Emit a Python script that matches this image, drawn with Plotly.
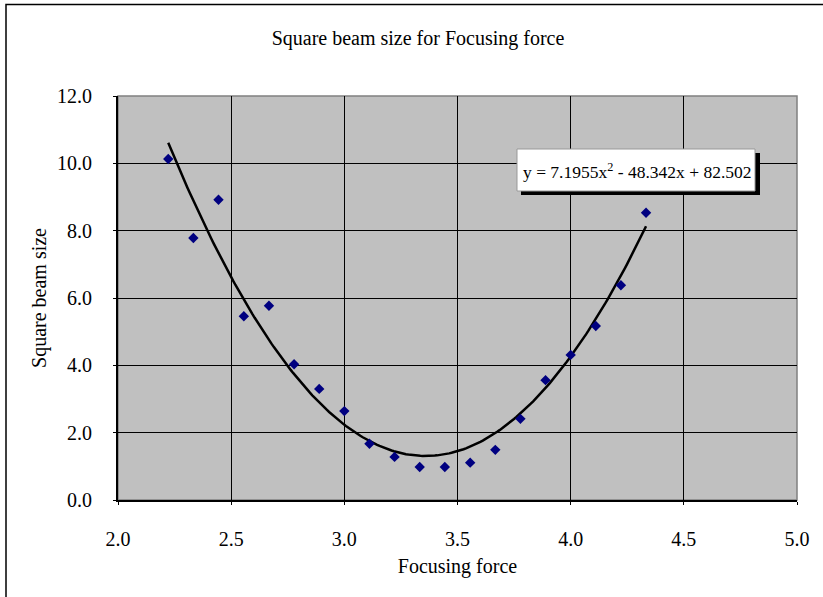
import numpy as np
import plotly.graph_objects as go

# Data
focusing_force = [2.222, 2.333, 2.444, 2.556, 2.667, 2.778, 2.889, 3.000, 3.111, 3.222,
                  3.333, 3.444, 3.556, 3.667, 3.778, 3.889, 4.000, 4.111, 4.222, 4.333]
square_beam_size = [10.13, 7.78, 8.92, 5.46, 5.77, 4.03, 3.30, 2.64, 1.67, 1.28,
                    0.98, 0.98, 1.11, 1.49, 2.41, 3.56, 4.31, 5.17, 6.38, 8.53]
trend_coeffs = [7.1955, -48.342, 82.502]
x_ticks = [2.0, 2.5, 3.0, 3.5, 4.0, 4.5, 5.0]
y_ticks = [0.0, 2.0, 4.0, 6.0, 8.0, 10.0, 12.0]

xt = np.linspace(min(focusing_force), max(focusing_force), 200)
yt = np.polyval(trend_coeffs, xt)

FONT = "Liberation Serif, Times New Roman, serif"
W, H = 823, 597
L, R, T, B = 118, 26, 96, 97
PW, PH = W - L - R, H - T - B

def px(x):
    return (x - L) / PW

def py(y):
    return (H - B - y) / PH

fig = go.Figure()
fig.add_trace(go.Scatter(x=xt, y=yt, mode="lines",
                         line=dict(color="black", width=2.5), showlegend=False,
                         hoverinfo="skip"))
fig.add_trace(go.Scatter(x=focusing_force, y=square_beam_size, mode="markers",
                         marker=dict(symbol="diamond", size=8, color="#000080"),
                         showlegend=False))

fig.update_layout(
    width=W, height=H,
    margin=dict(l=L, r=R, t=T, b=B),
    paper_bgcolor="white", plot_bgcolor="#C0C0C0",
    font=dict(family=FONT, size=20, color="black"),
    title=dict(text="Square beam size for Focusing force", x=px(418), xanchor="center",
               xref="paper", y=1 - 38 / H, yanchor="middle", font=dict(family=FONT, size=20)),
    xaxis=dict(range=[2, 5], tickvals=x_ticks, ticktext=[f"{v:.1f}" for v in x_ticks],
               showgrid=True, gridcolor="black", gridwidth=1,
               showline=True, linecolor="black", linewidth=2,
               ticks="outside", ticklen=3, tickcolor="black",
               ticklabelstandoff=17, zeroline=False,
               title=dict(text="Focusing force", standoff=10,
                          font=dict(family=FONT, size=20))),
    yaxis=dict(range=[0, 12], tickvals=y_ticks, ticktext=[f"{v:.1f}" for v in y_ticks],
               showgrid=True, gridcolor="black", gridwidth=1,
               showline=True, linecolor="black", linewidth=2,
               ticks="outside", ticklen=3, tickcolor="black",
               ticklabelstandoff=17, zeroline=False,
               title=dict(text="Square beam size", standoff=5,
                          font=dict(family=FONT, size=20))),
)

# plot area border (gray) on top/right
fig.add_shape(type="rect", xref="paper", yref="paper", x0=0, y0=0, x1=1, y1=1,
              line=dict(color="#808080", width=1.5), layer="below")
# outer chart border (top and left visible)
fig.add_shape(type="rect", xref="paper", yref="paper",
              x0=px(6), y0=py(H + 10), x1=px(W + 10), y1=py(4.5),
              line=dict(color="black", width=1.5))

# equation label with shadow
fig.add_shape(type="rect", xref="paper", yref="paper",
              x0=px(521), x1=px(760), y0=py(195), y1=py(153),
              fillcolor="black", line=dict(width=0))
fig.add_shape(type="rect", xref="paper", yref="paper",
              x0=px(517), x1=px(755), y0=py(191), y1=py(149),
              fillcolor="white", line=dict(color="#999999", width=1))
fig.add_annotation(xref="paper", yref="paper",
                   x=px(637), y=py(171),
                   text="y = 7.1955x<sup>2</sup> - 48.342x + 82.502",
                   showarrow=False, xanchor="center", yanchor="middle",
                   font=dict(family=FONT, size=17.5, color="black"))

fig.write_html("out.html", config={"displayModeBar": False},
               post_script="document.body.style.margin='0';")
